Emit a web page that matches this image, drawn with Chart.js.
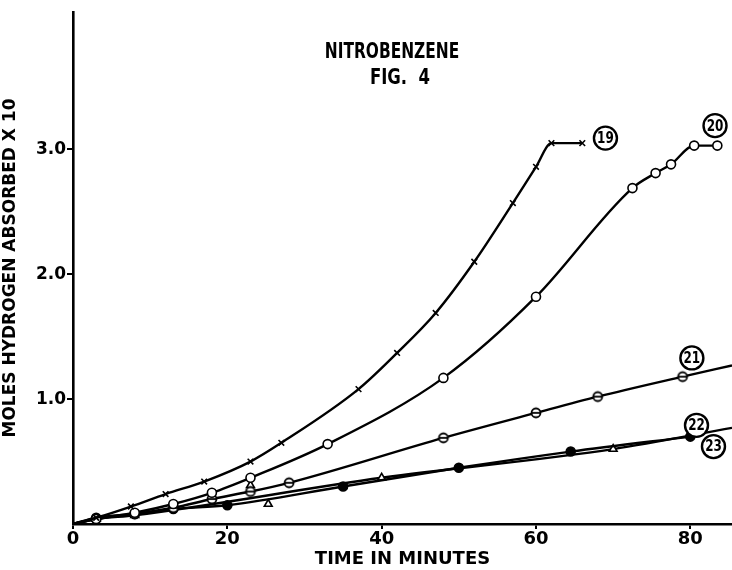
<!DOCTYPE html>
<html>
<head>
<meta charset="utf-8">
<script src="https://cdn.jsdelivr.net/npm/chart.js@4/dist/chart.umd.min.js"></script>
<style>
  html, body { margin: 0; padding: 0; background: #fff; }
  #wrap { width: 732px; height: 570px; }
</style>
</head>
<body>
<div id="wrap"><canvas id="c"></canvas></div>
<script>
// run 19 (x marks)
const t19 = [0, 3, 7.5, 12, 17, 23, 27, 37, 42, 47, 52, 57, 60, 62, 66];
const h19 = [0, 0.05, 0.14, 0.24, 0.34, 0.5, 0.65, 1.08, 1.37, 1.69, 2.1, 2.57, 2.86, 3.05, 3.05];
// run 20 (open circles)
const t20 = [0, 3, 8, 13, 18, 23, 33, 48, 60, 72.5, 75.5, 77.5, 80.5, 83.5];
const h20 = [0, 0.04, 0.09, 0.16, 0.25, 0.37, 0.64, 1.17, 1.82, 2.69, 2.81, 2.88, 3.03, 3.03];
// run 21 (circle with bar)
const t21 = [0, 3, 8, 13, 18, 23, 28, 48, 60, 68, 79, 85.4];
const h21 = [0, 0.04, 0.08, 0.13, 0.2, 0.26, 0.33, 0.69, 0.89, 1.02, 1.18, 1.27];
// run 22 (filled circles)
const t22 = [0, 3, 8, 13, 20, 35, 50, 64.5, 80];
const h22 = [0, 0.05, 0.08, 0.12, 0.15, 0.3, 0.45, 0.58, 0.7];
// run 23 (triangles)
const t23 = [0, 3, 8, 40, 70, 85.4];
const h23 = [0, 0.04, 0.07, 0.37, 0.6, 0.77];
const t23x = [23, 25.3];
const h23x = [0.31, 0.16];

const xTicks = [0, 20, 40, 60, 80];
const yTicks = [1, 2, 3];

// circled run numbers
const runLabels = ["19", "20", "21", "22", "23"];
const runLabelX = [69, 83.2, 80.2, 80.8, 83];
const runLabelY = [3.09, 3.19, 1.33, 0.79, 0.62];

const pts = (xs, ys) => xs.map((x, i) => ({ x, y: ys[i] }));

function markerCanvas(draw) {
  const c = document.createElement("canvas");
  c.width = 14; c.height = 14;
  const g = c.getContext("2d");
  g.strokeStyle = "#000"; g.fillStyle = "#000"; g.lineWidth = 1.8;
  draw(g);
  return c;
}
const barCircle = markerCanvas((g) => {
  g.fillStyle = "#fff";
  g.beginPath(); g.arc(7, 7, 4.5, 0, Math.PI * 2); g.fill(); g.stroke();
  g.beginPath(); g.moveTo(2.5, 7); g.lineTo(11.5, 7); g.stroke();
});

const FONT = "'DejaVu Sans', sans-serif";

function line(data, style, radius, fill, extra) {
  return Object.assign({
    data,
    borderColor: "#000",
    borderWidth: 2.4,
    showLine: true,
    cubicInterpolationMode: "monotone",
    pointStyle: style,
    // no marker at the origin or where a line runs off the right edge
    pointRadius: (c) => (c.raw && (c.raw.x === 0 || c.raw.x > 85) ? 0 : radius),
    pointBorderWidth: 1.6,
    pointBorderColor: "#000",
    pointBackgroundColor: fill,
  }, extra || {});
}

function squeezedText(ctx, s, x, y, sx) {
  ctx.save();
  ctx.translate(x, y);
  ctx.scale(sx, 1);
  ctx.fillText(s, 0, 0);
  ctx.restore();
}

const labelPlugin = {
  id: "labels",
  afterDatasetsDraw(chart) {
    const { ctx, scales } = chart;
    ctx.save();
    ctx.fillStyle = "#000";
    ctx.textAlign = "center";
    ctx.textBaseline = "alphabetic";
    ctx.font = "bold 22px " + FONT;
    squeezedText(ctx, "NITROBENZENE", 392, 58, 0.7);
    squeezedText(ctx, "FIG.  4", 400, 84, 0.75);
    // circled numbers
    runLabels.forEach((s, i) => {
      const px = scales.x.getPixelForValue(runLabelX[i]);
      const py = scales.y.getPixelForValue(runLabelY[i]);
      ctx.beginPath();
      ctx.fillStyle = "#fff";
      ctx.arc(px, py, 11.5, 0, Math.PI * 2);
      ctx.fill();
      ctx.lineWidth = 2.4;
      ctx.strokeStyle = "#000";
      ctx.stroke();
      ctx.fillStyle = "#000";
      ctx.font = "bold 15px " + FONT;
      ctx.textBaseline = "middle";
      squeezedText(ctx, s, px, py + 1, 0.8);
    });
    ctx.restore();
  },
};

new Chart(document.getElementById("c"), {
  type: "scatter",
  data: {
    datasets: [
      line(pts(t19, h19), "crossRot", 4, "#000"),
      line(pts(t20, h20), "circle", 4.5, "#fff"),
      line(pts(t21, h21), barCircle, 6, "#fff"),
      line(pts(t22, h22), "circle", 4.5, "#000"),
      line(pts(t23, h23), "triangle", 4.5, "#fff"),
      line(pts(t23x, h23x), "triangle", 4.5, "#fff", { showLine: false }),
    ],
  },
  options: {
    responsive: true,
    maintainAspectRatio: false,
    animation: false,
    layout: { autoPadding: false, padding: { top: 12, right: 0, left: 0, bottom: 0 } },
    plugins: { legend: { display: false }, tooltip: { enabled: false } },
    scales: {
      x: {
        type: "linear",
        min: 0,
        max: 85.4,
        afterBuildTicks: (s) => { s.ticks = xTicks.map((v) => ({ value: v })); },
        afterFit: (s) => { s.height = 46; },
        grid: { drawOnChartArea: false, color: "#000", lineWidth: 2, tickLength: 5 },
        border: { color: "#000", width: 2.6 },
        ticks: { color: "#000", font: { family: FONT, size: 18, weight: "bold" }, padding: 0, maxRotation: 0 },
        title: { display: true, text: "TIME IN MINUTES", color: "#000", font: { family: FONT, size: 18, weight: "bold" }, padding: { top: 0, bottom: 0 } },
      },
      y: {
        type: "linear",
        min: 0,
        max: 4.1,
        afterBuildTicks: (s) => { s.ticks = yTicks.map((v) => ({ value: v })); },
        afterFit: (s) => { s.width = 73; },
        grid: { drawOnChartArea: false, color: "#000", lineWidth: 2, tickLength: 6 },
        border: { color: "#000", width: 2.6 },
        ticks: { color: "#000", font: { family: FONT, size: 17, weight: "bold" }, padding: 1, callback: (v) => v.toFixed(1) },
        title: { display: true, text: "MOLES HYDROGEN ABSORBED X 10", color: "#000", font: { family: FONT, size: 17, weight: "bold" }, padding: { top: 0, bottom: 2 } },
      },
    },
  },
  plugins: [labelPlugin],
});
</script>
</body>
</html>
